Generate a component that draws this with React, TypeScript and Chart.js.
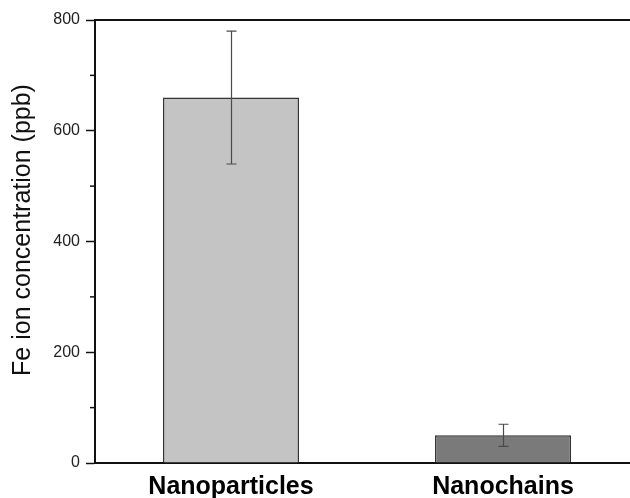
import React, { useEffect, useRef } from "react";
import { Chart, registerables } from "chart.js";

Chart.register(...registerables);

const categories = ["Nanoparticles", "Nanochains"];
const values = [660, 50];
const errors = [120, 20];
const barColors = ["#c4c4c4", "#7a7a7a"];
const yTicks = [0, 200, 400, 600, 800];
const minorTicks = [100, 300, 500, 700];
const yTitle = "Fe ion concentration (ppb)";

const extrasPlugin = {
  id: "extras",
  afterDatasetsDraw(chart: any) {
    const ctx = chart.ctx;
    const xs = chart.scales.x;
    const ys = chart.scales.y;
    const area = chart.chartArea;
    ctx.save();
    // error bars
    ctx.strokeStyle = "#4a4a4a";
    ctx.lineWidth = 1.2;
    values.forEach((v, i) => {
      const x = Math.round(xs.getPixelForValue(i)) + 0.5;
      const yt = ys.getPixelForValue(v + errors[i]);
      const yb = ys.getPixelForValue(v - errors[i]);
      ctx.beginPath();
      ctx.moveTo(x, yt);
      ctx.lineTo(x, yb);
      ctx.moveTo(x - 5, yt);
      ctx.lineTo(x + 5, yt);
      ctx.moveTo(x - 5, yb);
      ctx.lineTo(x + 5, yb);
      ctx.stroke();
    });
    // minor ticks
    ctx.strokeStyle = "#111";
    ctx.lineWidth = 1.5;
    minorTicks.forEach((t) => {
      const y = ys.getPixelForValue(t);
      ctx.beginPath();
      ctx.moveTo(area.left - 5, y);
      ctx.lineTo(area.left, y);
      ctx.stroke();
    });
    // top frame line
    ctx.strokeStyle = "#111";
    ctx.lineWidth = 2;
    ctx.beginPath();
    ctx.moveTo(area.left - 1, area.top);
    ctx.lineTo(area.right, area.top);
    ctx.stroke();
    // y axis title
    ctx.translate(23, 230);
    ctx.rotate(-Math.PI / 2);
    ctx.fillStyle = "#111";
    ctx.font = "25px 'Liberation Sans'";
    ctx.textAlign = "center";
    ctx.textBaseline = "middle";
    ctx.fillText(yTitle, 0, 0);
    ctx.restore();
  },
};

export default function App() {
  const ref = useRef<HTMLCanvasElement>(null);
  useEffect(() => {
    const chart = new Chart(ref.current!, {
      type: "bar",
      data: {
        labels: categories,
        datasets: [
          {
            data: values,
            backgroundColor: barColors,
            borderColor: "#333",
            borderWidth: 1.5,
            categoryPercentage: 1,
            barPercentage: 0.5,
          },
        ],
      },
      options: {
        animation: false,
        responsive: false,
        maintainAspectRatio: false,
        layout: { padding: { top: 20, right: 0, left: 0, bottom: 0 } },
        plugins: { legend: { display: false }, tooltip: { enabled: false } },
        scales: {
          x: {
            grid: { display: false, drawTicks: false },
            border: { display: true, color: "#111", width: 2 },
            ticks: {
              color: "#000",
              padding: 9,
              font: { family: "Liberation Sans", size: 25, weight: "bold" },
            },
            afterFit(scale: any) {
              scale.height = 35;
            },
          },
          y: {
            min: 0,
            max: 800,
            afterBuildTicks(scale: any) {
              scale.ticks = yTicks.map((v) => ({ value: v }));
            },
            grid: {
              drawOnChartArea: false,
              drawTicks: true,
              tickLength: 9,
              tickColor: "#111",
              tickWidth: 1.5,
            },
            border: { display: true, color: "#111", width: 2 },
            ticks: {
              color: "#222",
              padding: 6,
              font: { family: "Liberation Sans", size: 16 },
            },
            title: { display: false },
            afterFit(scale: any) {
              scale.width = 95;
            },
          },
        },
      },
      plugins: [extrasPlugin],
    });
    return () => chart.destroy();
  }, []);
  return (
    <div
      style={{
        position: "fixed",
        left: 0,
        top: 0,
        width: 630,
        height: 498,
        overflow: "hidden",
        background: "#fff",
      }}
    >
      <canvas ref={ref} width={639} height={498} style={{ width: 639, height: 498 }} />
    </div>
  );
}
